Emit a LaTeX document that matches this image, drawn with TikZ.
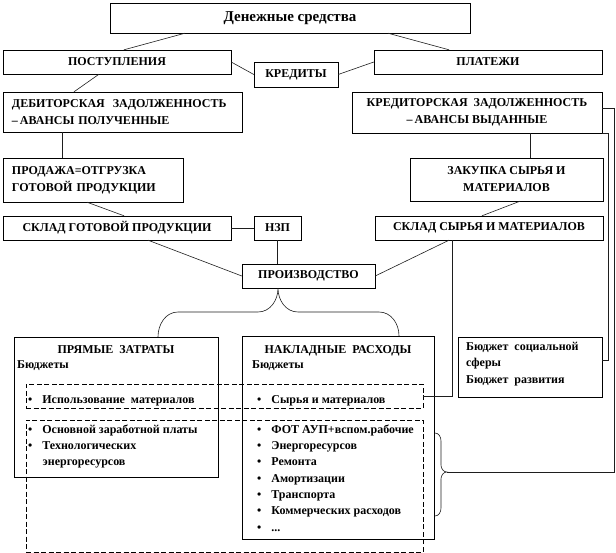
\documentclass[tikz,border=0pt]{standalone}
\usepackage{fontspec}
\setmainfont{Liberation Serif}[BoldFont={Liberation Serif Bold}]
\usepackage{xcolor}
\usepackage{tikz}
\usetikzlibrary{
  positioning
}
\definecolor{LineGray}{RGB}{30, 30, 30}
\tikzset{
    block/.style={draw, rectangle, inner sep=0pt, align=center,
        font=\fontsize{12}{17}\selectfont\bfseries},
    link/.style={draw=LineGray, line width=0.6pt},
    dashbox/.style={draw, rectangle, inner sep=0pt, dash pattern=on 5pt off 2.5pt},
    listtext/.style={anchor=north west, inner sep=0pt, align=left,
        font=\fontsize{12}{16.3}\selectfont\bfseries}
}

\begin{document}
\begin{tikzpicture}[x=1pt, y=-1pt]
                \useasboundingbox (0,0) rectangle (616,553);
                % upper chain
                \node[block, minimum width=360pt, minimum height=30pt, font=\fontsize{15}{17}\selectfont\bfseries] (money) at (290,18) {Денежные средства};
                \node[block, minimum width=228pt, minimum height=24pt] (inflow) at (117,62) {ПОСТУПЛЕНИЯ};
                \node[block, minimum width=228pt, minimum height=24pt] (payments) at (488,62) {ПЛАТЕЖИ};
                \node[block, minimum width=84pt, minimum height=25pt] (credits) at (296,74.5) {КРЕДИТЫ};
                \node[block, minimum width=239pt, minimum height=40pt, inner xsep=9pt, text width=221pt, align=left] (debit) at (122.5,112) {ДЕБИТОРСКАЯ\ \ ЗАДОЛЖЕННОСТЬ\\–\,АВАНСЫ ПОЛУЧЕННЫЕ};
                \node[block, minimum width=250pt, minimum height=41pt] (creditor) at (477,112.5) {КРЕДИТОРСКАЯ\ \ ЗАДОЛЖЕННОСТЬ\\–\,АВАНСЫ ВЫДАННЫЕ};
                \node[block, minimum width=180pt, minimum height=44pt, inner xsep=9pt, text width=162pt, align=left] (sale) at (93,180) {ПРОДАЖА=ОТГРУЗКА\\ГОТОВОЙ ПРОДУКЦИИ};
                \node[block, minimum width=193pt, minimum height=43pt] (purchase) at (506.5,179.5) {ЗАКУПКА СЫРЬЯ И\\МАТЕРИАЛОВ};
                \node[block, minimum width=228pt, minimum height=24pt] (fgstore) at (117,228) {СКЛАД ГОТОВОЙ ПРОДУКЦИИ};
                \node[block, minimum width=47pt, minimum height=24pt] (wip) at (277.5,228) {НЗП};
                \node[block, minimum width=228pt, minimum height=24pt] (rawstore) at (489,228) {СКЛАД СЫРЬЯ И МАТЕРИАЛОВ};
                \node[block, minimum width=133pt, minimum height=24pt] (prod) at (308.5,276) {ПРОИЗВОДСТВО};

                \draw[link] ([xshift=-105pt]money.south) -- ([xshift=7pt]inflow.north);
                \draw[link] ([xshift=98pt]money.south) -- ([xshift=-39pt]payments.north);
                \draw[link] (inflow.east) -- (credits.west);
                \draw[link] (credits.east) -- (payments.west);
                \draw[link] ([xshift=-18pt]inflow.south) -- ([xshift=-48.5pt]debit.north);
                \draw[link] ([xshift=-60.5pt]debit.south) -- ([xshift=-31pt]sale.north);
                \draw[link] ([xshift=53pt]creditor.south) -- ([xshift=23.5pt]purchase.north);
                \draw[link] ([xshift=-6pt]sale.south) -- ([xshift=7pt]fgstore.north);
                \draw[link] ([xshift=13.5pt]purchase.south) -- ([xshift=-7pt]rawstore.north);
                \draw[link] (fgstore.east) -- (wip.west);
                \draw[link] ([xshift=31pt]fgstore.south) -- (prod.west);
                \draw[link] (wip.south) -- (prod.north -| wip.south);
                \draw[link] ([xshift=-40pt]rawstore.south) -- (prod.east);

                % budgets
                \node[draw, rectangle, minimum width=204pt, minimum height=140pt] (direct) at (116,407) {};
                \node[draw, rectangle, minimum width=192pt, minimum height=203pt] (overhead) at (338,437.5) {};
                \node[draw, rectangle, minimum width=144pt, minimum height=60pt] (budget) at (530,367) {};
                \node[dashbox, minimum width=397pt, minimum height=24pt] (dashmat) at (224.5,396) {};
                \node[dashbox, minimum width=397pt, minimum height=132pt] (dashrest) at (224.5,486) {};

                \node[listtext, anchor=base] (directtitle) at (116,353) {ПРЯМЫЕ\ \ ЗАТРАТЫ};
                \node[listtext, anchor=base west] (directbud) at (17,369) {Бюджеты};
                \node[listtext] (directmat) at (28,395) {\textbullet\hspace{10pt}Использование\ \ материалов};
                \node[listtext] (directlist) at (28,424.5) {\textbullet\hspace{10pt}Основной заработной платы\\
                    \textbullet\hspace{10pt}Технологических\\
                    \hspace*{14.5pt}энергоресурсов};

                \node[listtext, anchor=base] (overtitle) at (338,353) {НАКЛАДНЫЕ\ \ РАСХОДЫ};
                \node[listtext, anchor=base west] (overbud) at (252,369) {Бюджеты};
                \node[listtext] (overmat) at (257,395) {\textbullet\hspace{10pt}Сырья и материалов};
                \node[listtext] (overlist) at (257,424.5) {\textbullet\hspace{10pt}ФОТ АУП+вспом.рабочие\\
                    \textbullet\hspace{10pt}Энергоресурсов\\
                    \textbullet\hspace{10pt}Ремонта\\
                    \textbullet\hspace{10pt}Амортизации\\
                    \textbullet\hspace{10pt}Транспорта\\
                    \textbullet\hspace{10pt}Коммерческих расходов\\
                    \textbullet\hspace{10pt}...};

                \node[listtext] (budgettext) at (466,342) {Бюджет\ \ социальной\\сферы\\Бюджет\ \ развития};

                % braces
                \coordinate (bracetip) at (447,472);
                \draw[link] ([xshift=42pt]direct.north) to[out=90, in=180] (178,312) -- (258,312)
                    to[out=0, in=-90] ([xshift=-30.5pt]prod.south)
                    to[out=-90, in=180] (298,312) -- (379,312)
                    to[out=0, in=90] ([xshift=61pt]overhead.north);
                \draw[link] (435,433) to[out=0, in=90] (441,441) -- (441,465)
                    to[out=-90, in=180] (bracetip)
                    to[out=180, in=90] (441,479) -- (441,508)
                    to[out=-90, in=0] (435,516);

                % right side returns
                \draw[link] ([xshift=-37pt]rawstore.south) |- (dashmat.east);
                \draw[link] (creditor.south east) -- ++(6,0) |- ([yshift=7pt]budget.east);
                \draw[link] ([yshift=4.5pt]creditor.east) -- ++(12,0) |- (bracetip);
            \end{tikzpicture}
\end{document}
